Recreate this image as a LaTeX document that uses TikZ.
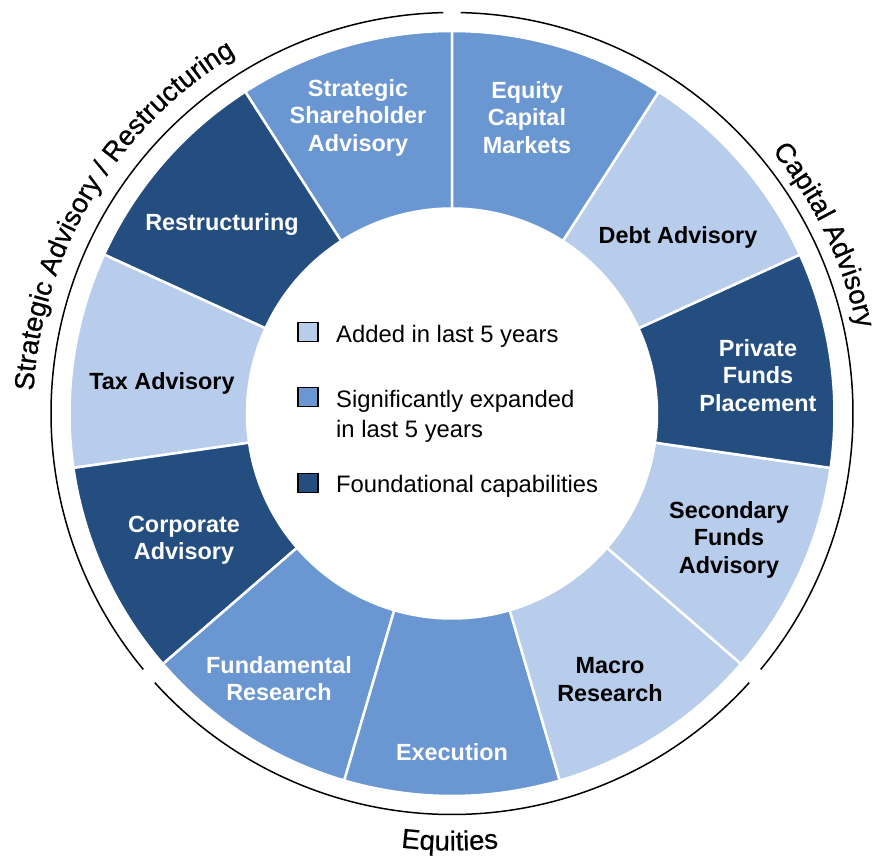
\documentclass[tikz,border=0pt]{standalone}
\usepackage{fontspec}
\setmainfont{Liberation Sans}
\newfontfamily\arcfam{Liberation Sans}[FakeBold=0.6]
\usetikzlibrary{decorations.text}
\definecolor{lightblue}{HTML}{B8CCEB}
\definecolor{medblue}{HTML}{6A96D2}
\definecolor{darkblue}{HTML}{254E80}
\newcommand\labfont{\fontsize{23.4}{27.5}\selectfont\bfseries}
\newcommand\legfont{\fontsize{23.8}{30}\selectfont}
\newcommand\arcfont{\arcfam\fontsize{27.5}{30}\selectfont}
\begin{document}
\begin{tikzpicture}[x=1pt,y=1pt,
  seg/.style={draw=white, line width=2.5pt},
  lab/.style={font=\labfont, align=center, inner sep=0pt},
  labw/.style={lab, text=white},
  labk/.style={lab, text=black},
  legbox/.style={draw=black, line width=1.2pt, minimum width=20pt, minimum height=19pt, inner sep=0pt},
  legtext/.style={font=\legfont, inner sep=0pt, align=left},
  grouparc/.style={line width=1.5pt, black},
  arctext/.style={decorate, decoration={text along path, text align=center, text={|\arcfont|#1}}}]
\useasboundingbox (-452,-447.5) rectangle (425,413.5);
% ring segments
\foreach \c [count=\i from 0] in {medblue,darkblue,lightblue,darkblue,medblue,medblue,lightblue,lightblue,darkblue,lightblue,medblue}{
  \pgfmathsetmacro\a{90+\i*360/11}
  \pgfmathsetmacro\b{\a+360/11}
  \path[seg, fill=\c] (\a:205pt) arc[start angle=\a, end angle=\b, radius=205pt]
     -- (\b:382.5pt) arc[start angle=\b, end angle=\a, radius=382.5pt] -- cycle;
}
% group arcs
\draw[grouparc] (88.75:401pt) arc[start angle=88.75, end angle=-39.66, radius=401pt];
\draw[grouparc] (-42.16:401pt) arc[start angle=-42.16, end angle=-137.84, radius=401pt];
\draw[grouparc] (91.25:401pt) arc[start angle=91.25, end angle=219.66, radius=401pt];
% group labels
\path[arctext={Strategic Advisory / Restructuring}] (184:419pt) arc[start angle=184, end angle=114, radius=419pt];
\path[arctext={Capital Advisory}] (45.6:414pt) arc[start angle=45.6, end angle=5.6, radius=414pt];
\path[arctext={Equities}] (-110.3:437pt) arc[start angle=-110.3, end angle=-70.3, radius=437pt];
% segment labels
\node[labw] (ssa) at (-94,296) {Strategic\\Shareholder\\Advisory};
\node[labw] (ecm) at (75,296) {Equity\\Capital\\Markets};
\node[labk] (debt) at (226,176.5) {Debt Advisory};
\node[labw] (pfp) at (306,38) {Private\\Funds\\Placement};
\node[labk] (sfa) at (277,-126) {Secondary\\Funds\\Advisory};
\node[labk] (macro) at (158,-266) {Macro\\Research};
\node[labw] (exec) at (0,-339) {Execution};
\node[labw] (fund) at (-173,-265) {Fundamental\\Research};
\node[labw] (corp) at (-268,-127) {Corporate\\Advisory};
\node[labk] (tax) at (-290,30.5) {Tax Advisory};
\node[labw] (restr) at (-230,188.5) {Restructuring};
% legend
\node[legbox, fill=lightblue] (sq1) at (-144,81.5) {};
\node[legbox, fill=medblue] (sq2) at (-144,16.5) {};
\node[legbox, fill=darkblue] (sq3) at (-144,-69.5) {};
\node[legtext, anchor=base west] (lt1) at (-116,70.5) {Added in last 5 years};
\node[legtext, anchor=west] (lt2) at (-116,-2.5) {Significantly expanded\\in last 5 years};
\node[legtext, anchor=base west] (lt3) at (-116,-78.5) {Foundational capabilities};
\end{tikzpicture}
\end{document}
